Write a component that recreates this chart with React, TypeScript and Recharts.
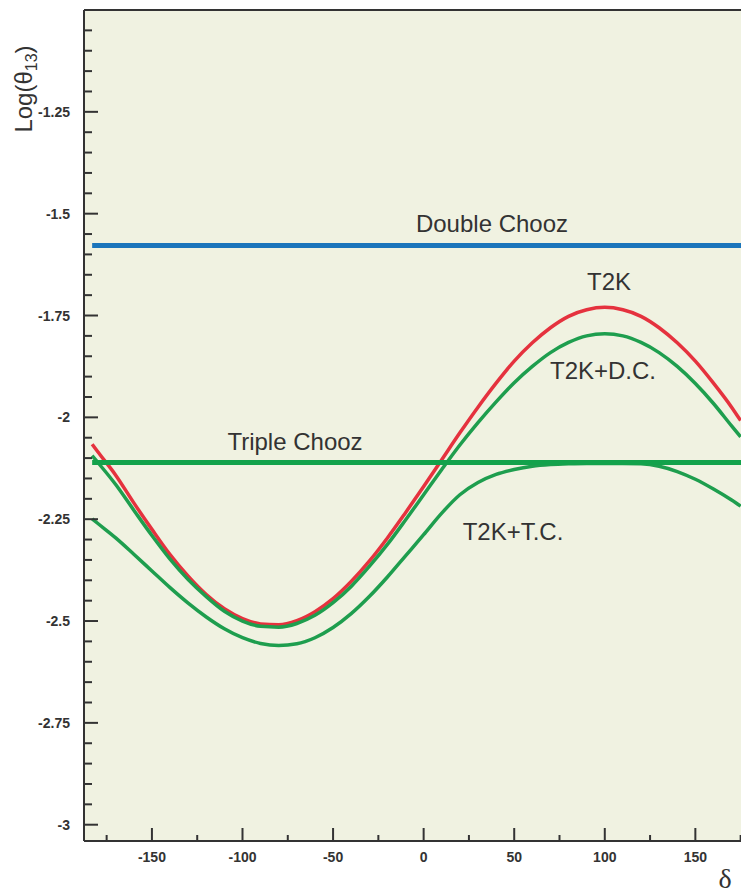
import { LineChart, Line, XAxis, YAxis, CartesianGrid, ReferenceLine } from 'recharts';

// δ (degrees) sample points
const delta = [
  -183, -180, -170, -160, -150, -140, -130, -120, -110, -100, -90, -80, -70, -60, -50, -40, -30, -20, -10,
  0, 10, 20, 30, 40, 50, 60, 70, 80, 90, 100, 110, 120, 130, 140, 150, 160, 170, 175,
];

// Log(θ13) sensitivity curves
const t2k = [
  -2.066, -2.084, -2.142, -2.21, -2.275, -2.337, -2.39, -2.435, -2.47, -2.494, -2.507, -2.509, -2.499, -2.477,
  -2.445, -2.403, -2.353, -2.296, -2.234, -2.17, -2.104, -2.038, -1.975, -1.916, -1.862, -1.817, -1.78, -1.752,
  -1.736, -1.73, -1.736, -1.752, -1.78, -1.817, -1.862, -1.916, -1.975, -2.008,
];
const t2kDC = [
  -2.094, -2.11, -2.165, -2.228, -2.29, -2.348, -2.398, -2.44, -2.476, -2.5, -2.513, -2.515, -2.506, -2.486,
  -2.455, -2.415, -2.366, -2.312, -2.252, -2.19, -2.128, -2.068, -2.013, -1.962, -1.915, -1.875, -1.841, -1.816,
  -1.8, -1.795, -1.8, -1.816, -1.841, -1.875, -1.917, -1.966, -2.021, -2.048,
];
const t2kTC = [
  -2.249, -2.26, -2.296, -2.336, -2.377, -2.418, -2.456, -2.49, -2.519, -2.541, -2.555, -2.56, -2.556, -2.541,
  -2.516, -2.482, -2.44, -2.392, -2.34, -2.288, -2.235, -2.19, -2.16, -2.14, -2.128, -2.12, -2.116, -2.114,
  -2.113, -2.113, -2.113, -2.114, -2.12, -2.133, -2.152, -2.176, -2.203, -2.218,
];

// reactor experiment limits (flat in δ)
const doubleChooz = -1.578;
const tripleChooz = -2.111;

const xTicks = [-175, -150, -125, -100, -75, -50, -25, 0, 25, 50, 75, 100, 125, 150, 175];
const yTicks = [
  -3, -2.95, -2.9, -2.85, -2.8, -2.75, -2.7, -2.65, -2.6, -2.55, -2.5, -2.45, -2.4, -2.35, -2.3, -2.25, -2.2,
  -2.15, -2.1, -2.05, -2, -1.95, -1.9, -1.85, -1.8, -1.75, -1.7, -1.65, -1.6, -1.55, -1.5, -1.45, -1.4, -1.35,
  -1.3, -1.25, -1.2, -1.15, -1.1, -1.05,
];

const data = delta.map((d, i) => ({ d, t2k: t2k[i], dc: t2kDC[i], tc: t2kTC[i] }));

const AXIS = '#333333';
const tickFont = { fontFamily: '"Liberation Sans", Arial, sans-serif', fontSize: 14, fontWeight: 700, fill: '#333' };
const labelFont = { fontFamily: '"Liberation Sans", Arial, sans-serif', fontSize: 24, fill: '#333' };

const XTick = (props: any) => {
  const { x, y, payload } = props;
  const major = payload.value % 50 === 0;
  return (
    <g>
      <line x1={x} x2={x} y1={y} y2={y - (major ? 13 : 6)} stroke={AXIS} strokeWidth={2} />
      {major && (
        <text x={x} y={y + 21} textAnchor="middle" {...tickFont}>
          {payload.value}
        </text>
      )}
    </g>
  );
};

const YTick = (props: any) => {
  const { x, y, payload } = props;
  const v = payload.value;
  const major = Math.abs(v * 4 - Math.round(v * 4)) < 1e-6;
  return (
    <g>
      <line x1={x} x2={x + (major ? 14 : 8)} y1={y} y2={y} stroke={AXIS} strokeWidth={2} />
      {major && (
        <text x={x - 14} y={y + 5} textAnchor="end" {...tickFont}>
          {String(v)}
        </text>
      )}
    </g>
  );
};

export default function App() {
  return (
    <div style={{ position: 'absolute', left: 0, top: 0, width: 741, height: 893, background: '#fff' }}>
      <LineChart width={741} height={893} data={data} margin={{ top: 10, right: 0, bottom: 0, left: 0 }}>
        <CartesianGrid fill="#F0F2E1" horizontal={false} vertical={false} />
        <XAxis
          type="number"
          dataKey="d"
          domain={[-187.5, 175.2]}
          ticks={xTicks}
          interval={0}
          allowDataOverflow
          height={52}
          tickSize={0}
          tickMargin={0}
          tick={<XTick />}
          axisLine={{ stroke: AXIS, strokeWidth: 2 }}
        />
        <YAxis
          type="number"
          domain={[-3.04, -1.0]}
          ticks={yTicks}
          interval={0}
          allowDataOverflow
          width={84}
          tickSize={0}
          tickMargin={0}
          tick={<YTick />}
          axisLine={{ stroke: AXIS, strokeWidth: 2 }}
        />
        <ReferenceLine y={-1.0} stroke={AXIS} strokeWidth={2} />
        <Line dataKey="t2k" type="monotone" stroke="#E5323E" strokeWidth={3.5} dot={false} isAnimationActive={false} />
        <Line dataKey="dc" type="monotone" stroke="#1E9E4E" strokeWidth={3.5} dot={false} isAnimationActive={false} />
        <Line dataKey="tc" type="monotone" stroke="#1E9E4E" strokeWidth={3.5} dot={false} isAnimationActive={false} />
        <ReferenceLine
          segment={[{ x: -183, y: doubleChooz }, { x: 175.2, y: doubleChooz }]}
          stroke="#1B75BB"
          strokeWidth={5}
        />
        <ReferenceLine
          segment={[{ x: -183, y: tripleChooz }, { x: 175.2, y: tripleChooz }]}
          stroke="#13A24B"
          strokeWidth={5}
        />
      </LineChart>
      <svg width={741} height={893} style={{ position: 'absolute', left: 0, top: 0, pointerEvents: 'none' }}>
        <text transform="rotate(-90 32 89)" x={32} y={89} textAnchor="middle" {...labelFont}>
          Log(θ<tspan fontSize={16} dy={5}>13</tspan>
          <tspan dy={-5}>)</tspan>
        </text>
        <text x={725} y={888} textAnchor="middle" fontFamily='"Liberation Serif", "DejaVu Serif", serif' fontSize={28} fill="#333">
          δ
        </text>
        <text x={492} y={232} textAnchor="middle" {...labelFont}>Double Chooz</text>
        <text x={609} y={290} textAnchor="middle" {...labelFont}>T2K</text>
        <text x={603} y={379} textAnchor="middle" {...labelFont}>T2K+D.C.</text>
        <text x={295} y={450} textAnchor="middle" {...labelFont}>Triple Chooz</text>
        <text x={513} y={540} textAnchor="middle" {...labelFont}>T2K+T.C.</text>
      </svg>
    </div>
  );
}
